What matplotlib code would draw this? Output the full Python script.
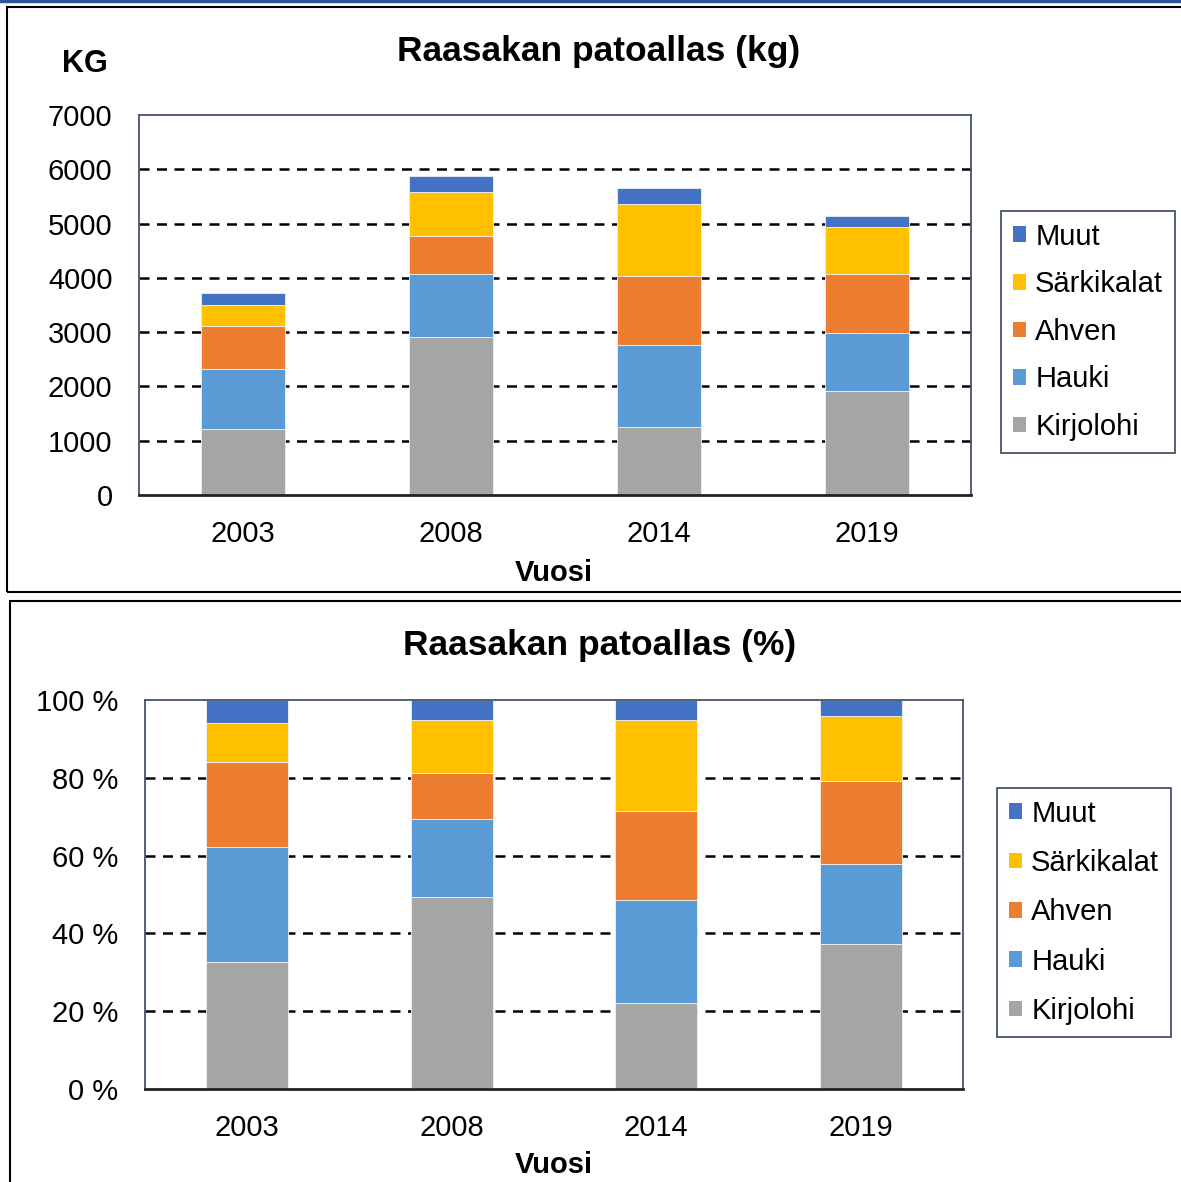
import matplotlib
matplotlib.use("Agg")
import matplotlib.pyplot as plt
import numpy as np
from matplotlib.patches import Rectangle, Patch
from matplotlib.lines import Line2D

plt.rcParams['font.family'] = ['Liberation Sans', 'DejaVu Sans']

years = ["2003", "2008", "2014", "2019"]
series = ["Kirjolohi", "Hauki", "Ahven", "Särkikalat", "Muut"]
kirjolohi = [1210, 2905, 1247, 1916]
hauki = [1105, 1172, 1510, 1062]
ahven = [804, 694, 1283, 1099]
sarkikalat = [375, 816, 1326, 854]
muut = [221, 295, 295, 214]
colors = ["#A5A5A5", "#5B9BD5", "#ED7D31", "#FFC000", "#4472C4"]

kg_ticks = [0, 1000, 2000, 3000, 4000, 5000, 6000, 7000]
pct_ticks = [0, 20, 40, 60, 80, 100]

W, H = 1181, 1182
fig = plt.figure(figsize=(W / 100, H / 100), dpi=100)


def fx(px):
    return px / W


def fy(py):
    return 1 - py / H


def rect(l, t, r, b):
    return [fx(l), fy(b), (r - l) / W, (b - t) / H]


# panel frames
fig.add_artist(Rectangle((fx(7), fy(592)), fx(1190) - fx(7), fy(7) - fy(592),
                         transform=fig.transFigure, fill=False, ec="black", lw=1.5))
fig.add_artist(Rectangle((fx(10), fy(1195)), fx(1190) - fx(10), fy(601) - fy(1195),
                         transform=fig.transFigure, fill=False, ec="black", lw=1.5))
fig.add_artist(Line2D([0, 1], [fy(1), fy(1)], transform=fig.transFigure,
                      color="#2F5597", lw=2.5))

data = [kirjolohi, hauki, ahven, sarkikalat, muut]
x = np.arange(len(years))
tick_fs = 21
spine_col = "#44546A"


def style(ax, ylim, ticks, labels, grid_vals):
    ax.set_xlim(-0.5, len(years) - 0.5)
    ax.set_ylim(*ylim)
    ax.set_yticks(ticks)
    ax.set_yticklabels(labels, fontsize=tick_fs)
    ax.set_xticks(x)
    ax.set_xticklabels(years, fontsize=tick_fs)
    ax.tick_params(axis="y", length=0, pad=19)
    ax.tick_params(axis="x", length=0, pad=18)
    for s in ["left", "right", "top"]:
        ax.spines[s].set_color(spine_col)
        ax.spines[s].set_linewidth(1.3)
    ax.spines["bottom"].set_color("#222222")
    ax.spines["bottom"].set_linewidth(2)
    for g in grid_vals:
        ax.axhline(g, color="black", lw=1.8, ls=(0, (4, 3)), zorder=0.5)


# top chart
ax1 = fig.add_axes(rect(139, 115, 971, 495))
bottom = np.zeros(len(years))
for vals, c, name in zip(data, colors, series):
    ax1.bar(x, vals, 0.4, bottom=bottom, color=c, edgecolor="#f2f2f2", lw=0.6,
            zorder=2, label=name)
    bottom += np.array(vals)
style(ax1, (0, 7000), kg_ticks, [str(t) for t in kg_ticks], kg_ticks[1:-1])

# bottom chart (percent)
totals = np.sum(np.array(data), axis=0)
ax2 = fig.add_axes(rect(145, 700, 963, 1089))
bottom = np.zeros(len(years))
for vals, c, name in zip(data, colors, series):
    p = np.array(vals) / totals * 100
    ax2.bar(x, p, 0.4, bottom=bottom, color=c, edgecolor="#f2f2f2", lw=0.6,
            zorder=2, label=name)
    bottom += p
style(ax2, (0, 100), pct_ticks, [f"{t} %" for t in pct_ticks], pct_ticks[1:-1])

# texts
fig.text(fx(599), fy(51), "Raasakan patoallas (kg)", ha="center", va="center",
         fontsize=25.5, fontweight="bold")
fig.text(fx(85), fy(64), "KG", ha="center", va="center", fontsize=22, fontweight="bold")
fig.text(fx(554), fy(573), "Vuosi", ha="center", va="center", fontsize=21, fontweight="bold")
fig.text(fx(600), fy(645), "Raasakan patoallas (%)", ha="center", va="center",
         fontsize=25.5, fontweight="bold")
fig.text(fx(554), fy(1165), "Vuosi", ha="center", va="center", fontsize=21, fontweight="bold")

# legends
handles = [Patch(facecolor=c, edgecolor="none") for c in colors][::-1]
labels = series[::-1]
for (l, t, sp) in [(1001, 211, 0.67), (997, 788, 0.73)]:
    leg = fig.legend(handles, labels, loc="upper left",
                     bbox_to_anchor=(fx(l), fy(t)), bbox_transform=fig.transFigure,
                     fontsize=21, frameon=True, fancybox=False, framealpha=1,
                     edgecolor=spine_col, handlelength=0.45, handleheight=0.45,
                     handletextpad=0.32, labelspacing=sp, borderpad=0.4,
                     borderaxespad=0)
    leg.get_frame().set_linewidth(1.3)

fig.savefig("out.png", dpi=100)
